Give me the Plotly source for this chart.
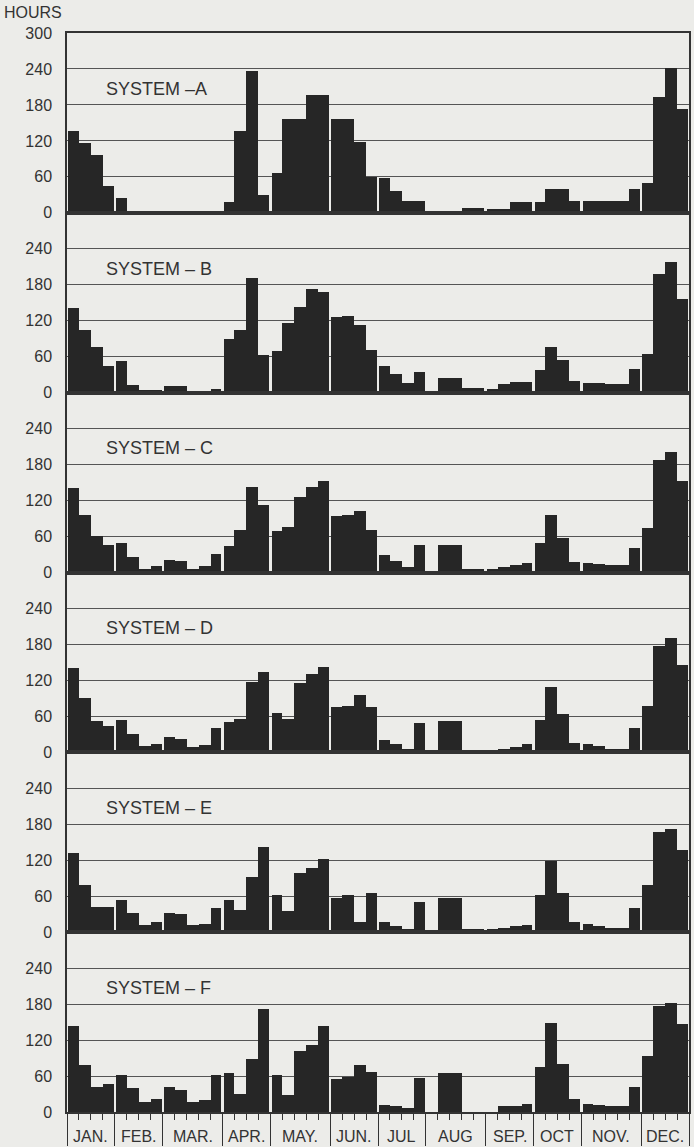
import plotly.graph_objects as go
from plotly.subplots import make_subplots

# ---- data ----
months = ["JAN.", "FEB.", "MAR.", "APR.", "MAY.", "JUN.", "JUL", "AUG", "SEP.", "OCT", "NOV.", "DEC."]
weeks_per_month = [4, 4, 5, 4, 5, 4, 4, 5, 4, 4, 5, 4]
systems = ["SYSTEM –A", "SYSTEM – B", "SYSTEM – C", "SYSTEM – D", "SYSTEM – E", "SYSTEM – F"]
y_ticks_top = [0, 60, 120, 180, 240, 300]
y_ticks = [0, 60, 120, 180, 240]

sys_a = [137, 117, 97, 45, 25, 0, 0, 0, 0, 0, 0, 0, 0, 18, 137, 236, 29, 67, 157, 157, 197, 197,
         157, 157, 118, 60, 58, 36, 19, 19, 0, 0, 0, 8, 8, 7, 7, 18, 18, 18, 39, 39, 20,
         20, 20, 20, 20, 40, 50, 193, 242, 174]
sys_b = [141, 104, 76, 44, 53, 13, 4, 5, 11, 11, 3, 3, 6, 89, 104, 192, 63, 69, 117, 144, 174, 169,
         126, 129, 114, 71, 44, 32, 16, 34, 0, 24, 24, 8, 8, 7, 14, 18, 18, 38, 77, 54, 19,
         17, 16, 14, 14, 40, 64, 199, 218, 156]
sys_c = [142, 96, 62, 46, 50, 27, 7, 11, 21, 19, 7, 11, 32, 44, 72, 144, 113, 69, 77, 127, 144, 154,
         94, 97, 103, 72, 29, 19, 10, 46, 0, 47, 47, 6, 6, 7, 10, 13, 16, 49, 97, 58, 18,
         17, 15, 13, 13, 41, 74, 188, 201, 154]
sys_d = [141, 92, 53, 44, 54, 31, 12, 15, 26, 23, 10, 13, 41, 51, 56, 119, 135, 67, 57, 116, 132, 144,
         76, 78, 96, 77, 21, 14, 6, 50, 0, 53, 53, 4, 4, 4, 7, 10, 14, 54, 110, 64, 17,
         14, 12, 7, 7, 41, 78, 179, 192, 147]
sys_e = [132, 78, 41, 41, 53, 32, 12, 17, 32, 30, 12, 13, 39, 53, 37, 92, 142, 62, 35, 98, 107, 122,
         56, 61, 16, 65, 16, 9, 4, 49, 0, 57, 57, 4, 4, 4, 7, 9, 12, 61, 118, 65, 16,
         13, 9, 7, 7, 39, 78, 166, 171, 136]
sys_f = [144, 78, 41, 47, 62, 39, 16, 22, 41, 36, 16, 19, 61, 64, 30, 88, 171, 62, 28, 102, 111, 144,
         54, 58, 78, 67, 11, 9, 7, 56, 0, 65, 65, 0, 0, 0, 10, 10, 13, 75, 149, 79, 21,
         13, 12, 9, 9, 42, 93, 176, 181, 147]
series = [sys_a, sys_b, sys_c, sys_d, sys_e, sys_f]

# ---- styling ----
BG = "#ecece9"
BAR = "#262626"
GRID = "#555555"
LINE = "#333333"
TXT = "#333333"
FONT = "Liberation Sans"
HALF_GAP = 0.1

# month boundaries (in weeks)
bounds = [0]
for n in weeks_per_month:
    bounds.append(bounds[-1] + n)
n_weeks = bounds[-1]
starts = set(bounds[:-1])
ends = set(b - 1 for b in bounds[1:])

xs = list(range(n_weeks))
offsets = [HALF_GAP if w in starts else 0.0 for w in xs]
widths = [1.0 - (HALF_GAP if w in starts else 0) - (HALF_GAP if w in ends else 0) for w in xs]

fig = make_subplots(rows=6, cols=1, shared_xaxes=True, vertical_spacing=0)

for i, vals in enumerate(series):
    r = i + 1
    yv = [v if v > 0 else None for v in vals]
    fig.add_trace(go.Bar(x=xs, y=yv, offset=offsets, width=widths,
                         marker=dict(color=BAR, line=dict(width=0)),
                         showlegend=False, hoverinfo="y"), row=r, col=1)
    tv = y_ticks_top if r == 1 else y_ticks
    fig.update_yaxes(range=[0, 300], tickvals=tv, ticktext=[str(v) for v in tv],
                     showgrid=True, gridcolor=GRID, gridwidth=1, zeroline=False,
                     showline=True, linecolor=LINE, linewidth=1.5, mirror=True,
                     ticks="", ticklabelstandoff=10,
                     tickfont=dict(family=FONT, size=16, color=TXT), row=r, col=1)
    fig.update_xaxes(range=[0, n_weeks], showgrid=False, zeroline=False,
                     showline=True, linecolor=LINE, linewidth=1.5, mirror=True,
                     showticklabels=False, ticks="", row=r, col=1)
    yref = "y" if r == 1 else f"y{r}"
    xref = "x" if r == 1 else f"x{r}"
    fig.add_annotation(x=3.1, y=207, xref=xref, yref=yref, text=systems[i],
                       showarrow=False, xanchor="left", yanchor="middle",
                       font=dict(family=FONT, size=18, color=TXT))

# bottom axis: month boundaries (long) and week ticks (short)
fig.update_xaxes(tickmode="array", tickvals=bounds, ticks="outside", ticklen=32,
                 tickwidth=1.2, tickcolor=LINE,
                 minor=dict(tick0=0, dtick=1, ticks="outside", ticklen=6, tickwidth=1, tickcolor=LINE),
                 row=6, col=1)

for m, name in enumerate(months):
    cx = (bounds[m] + bounds[m + 1]) / 2
    fig.add_annotation(x=cx, y=0, xref="x6", yref="paper", text=name, showarrow=False,
                       xanchor="center", yanchor="middle", yshift=-24,
                       font=dict(family=FONT, size=16, color=TXT))

fig.add_annotation(x=0, y=1, xref="paper", yref="paper", text="HOURS", showarrow=False,
                   xanchor="left", yanchor="middle", xshift=-65, yshift=21,
                   font=dict(family=FONT, size=16, color=TXT))

fig.update_layout(width=694, height=1147, margin=dict(l=67, r=3, t=33, b=34),
                  paper_bgcolor=BG, plot_bgcolor=BG, bargap=0, barmode="overlay")

fig.write_html("out.html")
